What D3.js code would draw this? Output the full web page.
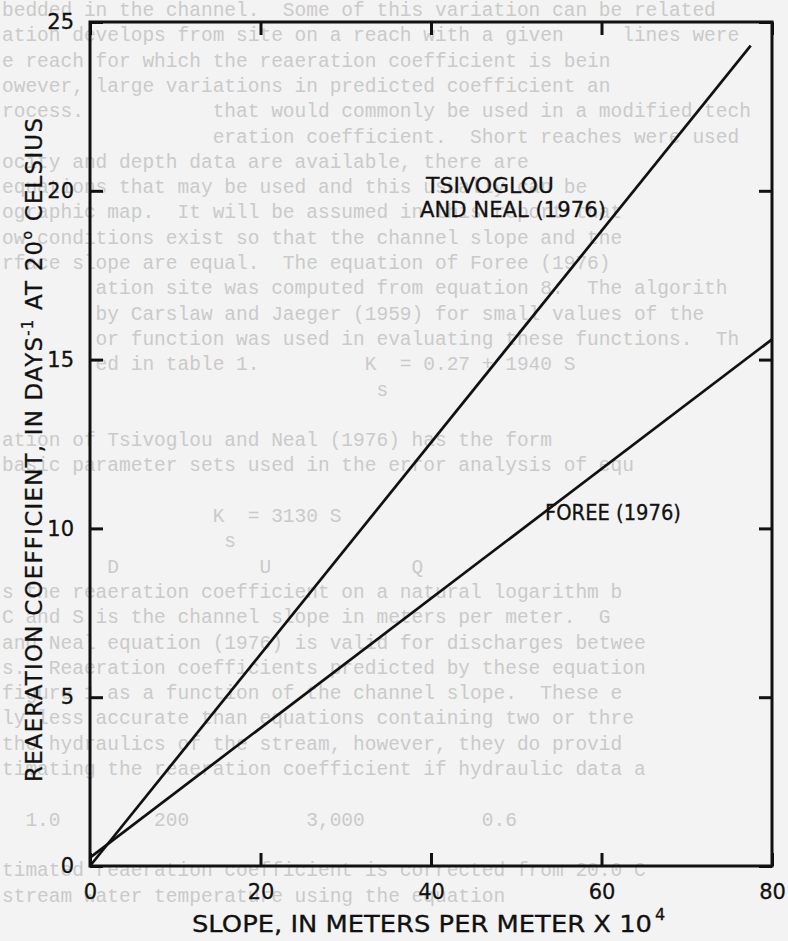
<!DOCTYPE html>
<html>
<head>
<meta charset="utf-8">
<script src="https://cdn.jsdelivr.net/npm/d3@7"></script>
<style>
  body { margin: 0; background: #f3f3f3; }
  svg { display: block; }
  .tick text { font-family: "DejaVu Sans", sans-serif; font-size: 21px; fill: #111; stroke: #111; stroke-width: 0.3px; }
  .tick line { stroke: #111; stroke-width: 3px; }
  .lbl { font-family: "DejaVu Sans", sans-serif; fill: #111; stroke: #111; stroke-width: 0.3px; }
  .ghost { font-family: "Liberation Mono", monospace; font-size: 19.5px; fill: #cacaca; white-space: pre; }
</style>
</head>
<body>
<div id="chart"></div>
<script>
// ============
// Data
// ============
var slopeTicks = [0, 20, 40, 60, 80];
var coefTicks = [0, 5, 10, 15, 20, 25];

// slope (meters per meter x 10^4) vs reaeration coefficient (days^-1)
var tsivoglouSlope = [0, 77.5];
var tsivoglouCoef = [0, 24.3];
var foreeSlope = [0, 80];
var foreeCoef = [0.25, 15.6];

// show-through of the typed page behind the figure
var ghostLines = [
  "bedded in the channel.  Some of this variation can be related",
  "ation develops from site on a reach with a given     lines were",
  "e reach for which the reaeration coefficient is bein",
  "owever, large variations in predicted coefficient an",
  "rocess.           that would commonly be used in a modified tech",
  "                  eration coefficient.  Short reaches were used",
  "ocity and depth data are available, there are",
  "equations that may be used and this usually can be",
  "ographic map.  It will be assumed in this report that",
  "ow conditions exist so that the channel slope and the",
  "rface slope are equal.  The equation of Foree (1976)",
  "        ation site was computed from equation 8.  The algorith",
  "        by Carslaw and Jaeger (1959) for small values of the",
  "        or function was used in evaluating these functions.  Th",
  "        ed in table 1.         K  = 0.27 + 1940 S",
  "                                s",
  "",
  "ation of Tsivoglou and Neal (1976) has the form",
  "basic parameter sets used in the error analysis of equ",
  "",
  "                  K  = 3130 S",
  "                   s",
  "         D            U            Q",
  "s the reaeration coefficient on a natural logarithm b",
  "C and S is the channel slope in meters per meter.  G",
  "and Neal equation (1976) is valid for discharges betwee",
  "s.  Reaeration coefficients predicted by these equation",
  "figure 1 as a function of the channel slope.  These e",
  "ly less accurate than equations containing two or thre",
  "the hydraulics of the stream, however, they do provid",
  "timating the reaeration coefficient if hydraulic data a",
  "",
  "  1.0        200          3,000          0.6",
  "",
  "timated reaeration coefficient is corrected from 20.0 C",
  "stream water temperature using the equation"
];

// ============
// Chart set up
// ============
var svgWidth = 788;
var svgHeight = 941;

var svg = d3.select("#chart")
  .append("svg")
  .attr("width", svgWidth)
  .attr("height", svgHeight);

svg.append("rect")
  .attr("width", svgWidth)
  .attr("height", svgHeight)
  .attr("fill", "#f3f3f3");

// faint text behind the figure
svg.append("g").selectAll("text")
  .data(ghostLines)
  .enter()
  .append("text")
  .attr("class", "ghost")
  .attr("x", 2)
  .attr("y", (d, i) => 16 + i * 25.3)
  .text(d => d);

var xScale = d3.scaleLinear().domain([0, 80]).range([90, 772]);
var yScale = d3.scaleLinear().domain([0, 25]).range([866, 22]);

// bottom axis with labels
svg.append("g")
  .attr("transform", "translate(0, 866)")
  .call(d3.axisBottom(xScale).tickValues(slopeTicks).tickSizeInner(-13).tickSizeOuter(0).tickPadding(18))
  .call(g => g.select(".domain").remove());

// top ticks, no labels
svg.append("g")
  .attr("transform", "translate(0, 22)")
  .call(d3.axisTop(xScale).tickValues(slopeTicks).tickSizeInner(-13).tickSizeOuter(0).tickFormat(""))
  .call(g => g.select(".domain").remove());

// left axis with labels
svg.append("g")
  .attr("transform", "translate(90, 0)")
  .call(d3.axisLeft(yScale).tickValues(coefTicks).tickSizeInner(-13).tickSizeOuter(0).tickPadding(16))
  .call(g => g.select(".domain").remove());

// right ticks, no labels
svg.append("g")
  .attr("transform", "translate(772, 0)")
  .call(d3.axisRight(yScale).tickValues(coefTicks).tickSizeInner(-13).tickSizeOuter(0).tickFormat(""))
  .call(g => g.select(".domain").remove());

// frame
svg.append("rect")
  .attr("x", xScale(0))
  .attr("y", yScale(25))
  .attr("width", xScale(80) - xScale(0))
  .attr("height", yScale(0) - yScale(25))
  .attr("fill", "none")
  .attr("stroke", "#111")
  .attr("stroke-width", 3);

// ============
// Lines
// ============
var line = d3.line()
  .x(d => xScale(d[0]))
  .y(d => yScale(d[1]));

var tsivoglouData = d3.zip(tsivoglouSlope, tsivoglouCoef);
var foreeData = d3.zip(foreeSlope, foreeCoef);

svg.append("path")
  .datum(tsivoglouData)
  .attr("d", line)
  .attr("fill", "none")
  .attr("stroke", "#111")
  .attr("stroke-width", 2.7);

svg.append("path")
  .datum(foreeData)
  .attr("d", line)
  .attr("fill", "none")
  .attr("stroke", "#111")
  .attr("stroke-width", 2.7);

// ============
// Labels
// ============
svg.append("text")
  .attr("class", "lbl")
  .attr("x", 426)
  .attr("y", 193)
  .attr("font-size", 22)
  .attr("textLength", 128)
  .attr("lengthAdjust", "spacingAndGlyphs")
  .text("TSIVOGLOU");

svg.append("text")
  .attr("class", "lbl")
  .attr("x", 420)
  .attr("y", 217)
  .attr("font-size", 22)
  .attr("textLength", 186)
  .attr("lengthAdjust", "spacingAndGlyphs")
  .text("AND NEAL (1976)");

svg.append("text")
  .attr("class", "lbl")
  .attr("x", 545)
  .attr("y", 520)
  .attr("font-size", 22)
  .attr("textLength", 136)
  .attr("lengthAdjust", "spacingAndGlyphs")
  .text("FOREE (1976)");

// x axis title
svg.append("text")
  .attr("class", "lbl")
  .attr("x", 192)
  .attr("y", 932)
  .attr("font-size", 23)
  .attr("textLength", 460)
  .attr("lengthAdjust", "spacingAndGlyphs")
  .text("SLOPE, IN METERS PER METER X 10");

svg.append("text")
  .attr("class", "lbl")
  .attr("x", 655)
  .attr("y", 920)
  .attr("font-size", 16)
  .text("4");

// y axis title
var yTitle = svg.append("text")
  .attr("class", "lbl")
  .attr("font-size", 23)
  .attr("text-anchor", "middle")
  .attr("transform", "translate(42, 450) rotate(-90)")
  .attr("textLength", 664)
  .attr("lengthAdjust", "spacing");

yTitle.append("tspan").text("REAERATION COEFFICIENT, IN DAYS");
yTitle.append("tspan").attr("dy", -9).attr("font-size", 15).text("-1");
yTitle.append("tspan").attr("dy", 9).text(" AT 20");
yTitle.append("tspan").attr("dy", -10).attr("font-size", 14).text("o");
yTitle.append("tspan").attr("dy", 10).text(" CELSIUS");
</script>
</body>
</html>
